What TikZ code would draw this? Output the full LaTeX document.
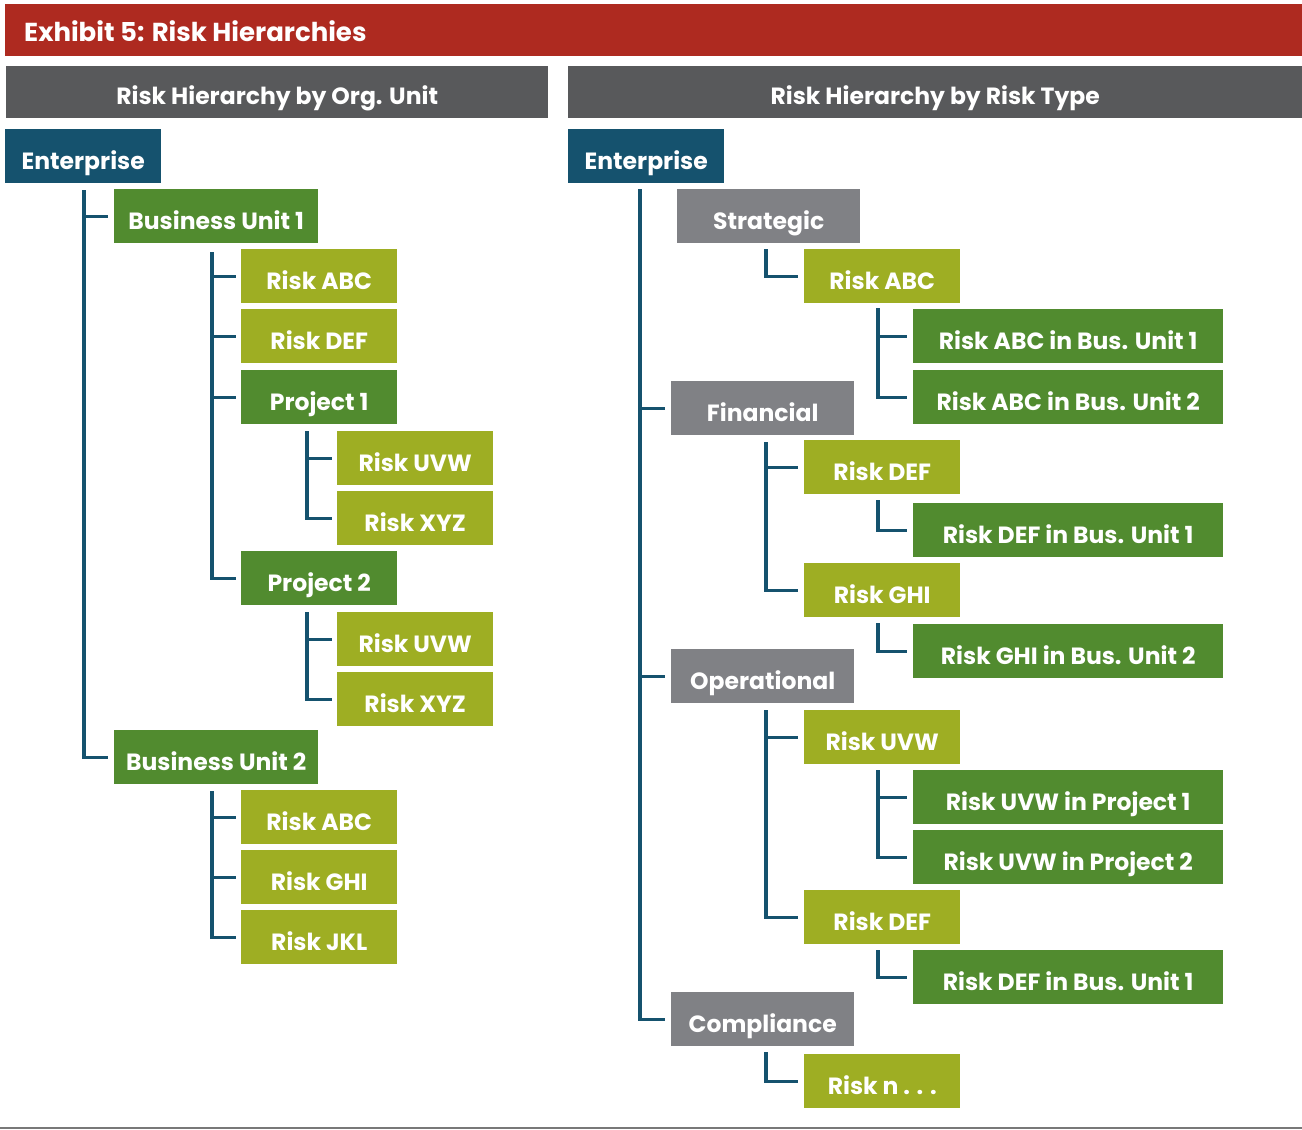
\documentclass[tikz,border=0pt]{standalone}
\usepackage{fontspec}
\setmainfont{Poppins}
\usepackage{tikz}
\definecolor{exhibitred}{RGB}{174,42,32}
\definecolor{headgray}{RGB}{88,89,91}
\definecolor{enterpriseblue}{RGB}{21,82,110}
\definecolor{unitgreen}{RGB}{81,139,47}
\definecolor{riskolive}{RGB}{158,174,35}
\definecolor{typegray}{RGB}{128,129,133}
\definecolor{rulegray}{RGB}{120,120,120}

\begin{document}
\begin{tikzpicture}[x=1pt, y=-1pt,
	box/.style={rectangle, anchor=north west, inner sep=0pt, minimum height=54pt, text=white, text height=26pt, text depth=0pt, font=\bfseries\fontsize{23.5}{27}\selectfont},
	enterprise/.style={box, fill=enterpriseblue, minimum width=156pt},
	unit/.style={box, fill=unitgreen, minimum width=204pt},
	project/.style={box, fill=unitgreen, minimum width=156pt},
	risk/.style={box, fill=riskolive, minimum width=156pt},
	riskwide/.style={box, fill=unitgreen, minimum width=310pt},
	risktype/.style={box, fill=typegray, minimum width=183pt},
	header/.style={box, fill=headgray, minimum height=52pt, text height=24pt},
	link/.style={draw=enterpriseblue, line width=3.2pt}]
			\useasboundingbox (0,0) rectangle (1302,1130);
			% title and headers
			\node [box, fill=exhibitred, minimum width=1297pt, minimum height=52pt] (TITLE) at (5,4) {};
			\node [anchor=base west, inner sep=0pt, text=white, font=\bfseries\fontsize{26}{30}\selectfont] (TITLETXT) at (24,41) {Exhibit 5: Risk Hierarchies};
			\node [header, minimum width=542pt] (HEADORG) at (6,66) {Risk Hierarchy by Org. Unit};
			\node [header, minimum width=734pt] (HEADTYPE) at (568,66) {Risk Hierarchy by Risk Type};
			% hierarchy by org. unit
			\node [enterprise] (ENT) at (5,129) {Enterprise};
			\node [unit] (BU1) at (114,189) {Business Unit 1};
			\node [risk] (ABCA) at (241,249) {Risk ABC};
			\node [risk] (DEFA) at (241,309) {Risk DEF};
			\node [project] (PRJ1) at (241,370) {Project 1};
			\node [risk] (UVWA) at (337,431) {Risk UVW};
			\node [risk] (XYZA) at (337,491) {Risk XYZ};
			\node [project] (PRJ2) at (241,551) {Project 2};
			\node [risk] (UVWB) at (337,612) {Risk UVW};
			\node [risk] (XYZB) at (337,672) {Risk XYZ};
			\node [unit] (BU2) at (114,730) {Business Unit 2};
			\node [risk] (ABCB) at (241,790) {Risk ABC};
			\node [risk] (GHIB) at (241,850) {Risk GHI};
			\node [risk] (JKLB) at (241,910) {Risk JKL};
			% hierarchy by risk type
			\node [enterprise] (ENTR) at (568,129) {Enterprise};
			\node [risktype] (STRAT) at (677,189) {Strategic};
			\node [risk] (ABCS) at (804,249) {Risk ABC};
			\node [riskwide] (ABCS1) at (913,309) {Risk ABC in Bus. Unit 1};
			\node [riskwide] (ABCS2) at (913,370) {Risk ABC in Bus. Unit 2};
			\node [risktype] (FIN) at (671,381) {Financial};
			\node [risk] (DEFF) at (804,440) {Risk DEF};
			\node [riskwide] (DEFF1) at (913,503) {Risk DEF in Bus. Unit 1};
			\node [risk] (GHIF) at (804,563) {Risk GHI};
			\node [riskwide] (GHIF2) at (913,624) {Risk GHI in Bus. Unit 2};
			\node [risktype] (OPER) at (671,649) {Operational};
			\node [risk] (UVWO) at (804,710) {Risk UVW};
			\node [riskwide] (UVWO1) at (913,770) {Risk UVW in Project 1};
			\node [riskwide] (UVWO2) at (913,830) {Risk UVW in Project 2};
			\node [risk] (DEFO) at (804,890) {Risk DEF};
			\node [riskwide] (DEFO1) at (913,950) {Risk DEF in Bus. Unit 1};
			\node [risktype] (COMP) at (671,992) {Compliance};
			\node [risk] (RISKN) at (804,1054) {Risk n . . .};
			% connectors, org. unit
			\draw [link] ([xshift=-30pt,yshift=-7pt]ENT.south -| BU1.west) |- ([xshift=-6pt]BU1.west);
			\draw [link] ([xshift=-30pt,yshift=-7pt]ENT.south -| BU1.west) |- ([xshift=-6pt]BU2.west);
			\draw [link] ([xshift=-29pt,yshift=-9pt]BU1.south -| ABCA.west) |- ([xshift=-5pt]ABCA.west);
			\draw [link] ([xshift=-29pt,yshift=-9pt]BU1.south -| ABCA.west) |- ([xshift=-5pt]DEFA.west);
			\draw [link] ([xshift=-29pt,yshift=-9pt]BU1.south -| ABCA.west) |- ([xshift=-5pt]PRJ1.west);
			\draw [link] ([xshift=-29pt,yshift=-9pt]BU1.south -| ABCA.west) |- ([xshift=-5pt]PRJ2.west);
			\draw [link] ([xshift=-30pt,yshift=-7pt]PRJ1.south -| UVWA.west) |- ([xshift=-5pt]UVWA.west);
			\draw [link] ([xshift=-30pt,yshift=-7pt]PRJ1.south -| UVWA.west) |- ([xshift=-5pt]XYZA.west);
			\draw [link] ([xshift=-30pt,yshift=-7pt]PRJ2.south -| UVWB.west) |- ([xshift=-5pt]UVWB.west);
			\draw [link] ([xshift=-30pt,yshift=-7pt]PRJ2.south -| UVWB.west) |- ([xshift=-5pt]XYZB.west);
			\draw [link] ([xshift=-29pt,yshift=-7pt]BU2.south -| ABCB.west) |- ([xshift=-5pt]ABCB.west);
			\draw [link] ([xshift=-29pt,yshift=-7pt]BU2.south -| ABCB.west) |- ([xshift=-5pt]GHIB.west);
			\draw [link] ([xshift=-29pt,yshift=-7pt]BU2.south -| ABCB.west) |- ([xshift=-5pt]JKLB.west);
			% connectors, risk type
			\draw [link] ([xshift=-31pt,yshift=-6pt]ENTR.south -| FIN.west) |- ([xshift=-6pt]FIN.west);
			\draw [link] ([xshift=-31pt,yshift=-6pt]ENTR.south -| FIN.west) |- ([xshift=-6pt]OPER.west);
			\draw [link] ([xshift=-31pt,yshift=-6pt]ENTR.south -| FIN.west) |- ([xshift=-6pt]COMP.west);
			\draw [link] ([xshift=-38pt,yshift=-6pt]STRAT.south -| ABCS.west) |- ([xshift=-6pt]ABCS.west);
			\draw [link] ([xshift=-35pt,yshift=-5pt]ABCS.south -| ABCS1.west) |- ([xshift=-6pt]ABCS1.west);
			\draw [link] ([xshift=-35pt,yshift=-5pt]ABCS.south -| ABCS1.west) |- ([xshift=-6pt]ABCS2.west);
			\draw [link] ([xshift=-38pt,yshift=-7pt]FIN.south -| DEFF.west) |- ([xshift=-6pt]DEFF.west);
			\draw [link] ([xshift=-38pt,yshift=-7pt]FIN.south -| DEFF.west) |- ([xshift=-6pt]GHIF.west);
			\draw [link] ([xshift=-35pt,yshift=-6pt]DEFF.south -| DEFF1.west) |- ([xshift=-6pt]DEFF1.west);
			\draw [link] ([xshift=-35pt,yshift=-6pt]GHIF.south -| GHIF2.west) |- ([xshift=-6pt]GHIF2.west);
			\draw [link] ([xshift=-38pt,yshift=-7pt]OPER.south -| UVWO.west) |- ([xshift=-6pt]UVWO.west);
			\draw [link] ([xshift=-38pt,yshift=-7pt]OPER.south -| UVWO.west) |- ([xshift=-6pt]DEFO.west);
			\draw [link] ([xshift=-35pt,yshift=-6pt]UVWO.south -| UVWO1.west) |- ([xshift=-6pt]UVWO1.west);
			\draw [link] ([xshift=-35pt,yshift=-6pt]UVWO.south -| UVWO1.west) |- ([xshift=-6pt]UVWO2.west);
			\draw [link] ([xshift=-35pt,yshift=-6pt]DEFO.south -| DEFO1.west) |- ([xshift=-6pt]DEFO1.west);
			\draw [link] ([xshift=-38pt,yshift=-6pt]COMP.south -| RISKN.west) |- ([xshift=-6pt]RISKN.west);
			% bottom rule
			\draw [rulegray, line width=1.5pt] (0,1128) -- (1302,1128);
		\end{tikzpicture}
\end{document}
